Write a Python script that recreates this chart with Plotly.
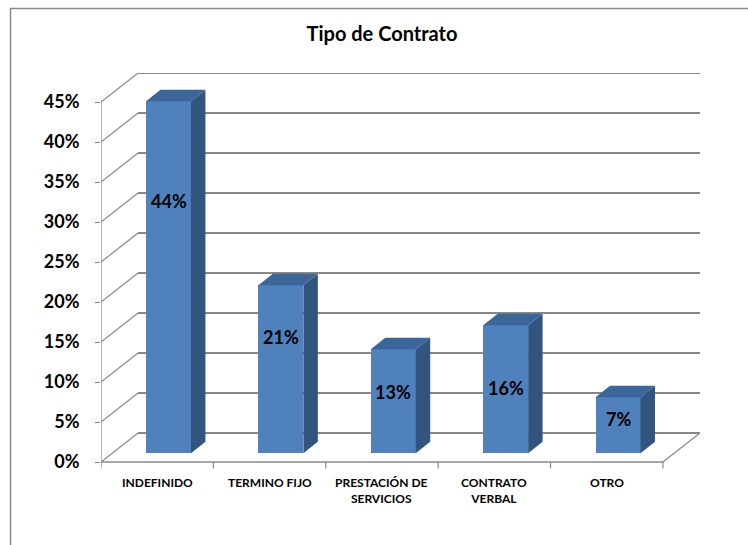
import plotly.graph_objects as go

# --- data -------------------------------------------------------------
categories = ["INDEFINIDO", "TERMINO FIJO", "PRESTACIÓN DE<br>SERVICIOS",
              "CONTRATO<br>VERBAL", "OTRO"]
shares = [44, 21, 13, 16, 7]          # percent of respondents
y_ticks = [0, 5, 10, 15, 20, 25, 30, 35, 40, 45]
y_tick_text = [f"{v}%" for v in y_ticks]

# --- pseudo-3D geometry (oblique projection in data units) ------------
DX, DY = 0.33, 3.625            # full depth offset of the back wall
F0, F1 = 0.305, 0.695           # bar front / back depth fractions
HALF = 0.2                      # half bar width
label_frac = [0.715, 0.69, 0.59, 0.51, 0.61]   # label height within bar

FRONT = "#4F81BD"
SIDE = "#32557F"
TOP = "#3B6699"
GRID = "#888888"
FONT = "Lato"

n = len(categories)
xs = list(range(n))
x_lo, x_hi = -0.5, n - 0.5
y_top = max(y_ticks)

fig = go.Figure()

shapes = []
def seg(x0, y0, x1, y1, w=1.8, color=GRID):
    shapes.append(dict(type="line", xref="x", yref="y", x0=x0, y0=y0,
                       x1=x1, y1=y1, layer="below",
                       line=dict(color=color, width=w)))

# back wall gridlines and left wall diagonals
for v in y_ticks:
    seg(x_lo + DX, v + DY, x_hi + DX, v + DY)
    seg(x_lo, v, x_lo + DX, v + DY, w=1.2)
# floor outline
seg(x_lo, 0, x_hi, 0, w=1.5)
seg(x_hi, 0, x_hi + DX, DY, w=1.2)
# front value axis
seg(x_lo, 0, x_lo, y_top, w=1.2)
# category tick marks
for k in range(n + 1):
    seg(x_lo + k, 0, x_lo + k, -0.8, w=1.2)

# bars: front faces
fx = [x + F0 * DX for x in xs]
base = F0 * DY
fig.add_trace(go.Bar(x=fx, y=shares, base=base, width=2 * HALF,
                     marker=dict(color=FRONT, line=dict(width=0)),
                     hoverinfo="skip", showlegend=False))

# bars: side and top faces
for x, v in zip(xs, shares):
    xr0 = x + F0 * DX + HALF
    xr1 = x + F1 * DX + HALF
    xl0 = x + F0 * DX - HALF
    xl1 = x + F1 * DX - HALF
    y0, y1 = F0 * DY, F1 * DY
    fig.add_trace(go.Scatter(
        x=[xr0, xr1, xr1, xr0, xr0], y=[y0, y1, v + y1, v + y0, y0],
        fill="toself", fillcolor=SIDE, mode="lines", line=dict(width=0),
        hoverinfo="skip", showlegend=False))
    fig.add_trace(go.Scatter(
        x=[xl0, xr0, xr1, xl1, xl0], y=[v + y0, v + y0, v + y1, v + y1, v + y0],
        fill="toself", fillcolor=TOP, mode="lines", line=dict(width=0),
        hoverinfo="skip", showlegend=False))

annotations = []
# value labels on the bar fronts
for x, v, f in zip(xs, shares, label_frac):
    annotations.append(dict(x=x + F0 * DX, y=base + v * f, xref="x", yref="y",
                            text=f"{v}%", showarrow=False,
                            font=dict(family=FONT, size=18, color="black",
                                      weight="bold")))
# category labels
for x, c in zip(xs, categories):
    annotations.append(dict(x=x, y=0, xref="x", yref="y", text=c,
                            showarrow=False, yanchor="top", yshift=-11,
                            font=dict(family=FONT, size=12, color="black",
                                      weight="bold")))

# chart frame
PX_L, PX_R, PX_T, PX_B = 101, 700, 73, 486
def px_to_paper_x(px):
    return (px - PX_L) / (PX_R - PX_L)
def px_to_paper_y(py):
    return (PX_B - py) / (PX_B - PX_T)
shapes.append(dict(type="rect", xref="paper", yref="paper",
                   x0=px_to_paper_x(10.5), x1=px_to_paper_x(760),
                   y0=px_to_paper_y(560), y1=px_to_paper_y(8.5),
                   line=dict(color="#8A8A8A", width=1.5), layer="below"))

fig.update_layout(
    width=748, height=545, autosize=False,
    margin=dict(l=PX_L, r=748 - PX_R, t=PX_T, b=545 - PX_B),
    paper_bgcolor="white", plot_bgcolor="white",
    title=dict(text="Tipo de Contrato", x=382 / 748, xanchor="center",
               xref="container",
               y=1 - 33.5 / 545, yanchor="middle", yref="container",
               font=dict(family=FONT, size=20, color="black", weight="bold")),
    xaxis=dict(range=[x_lo, x_hi + DX], showgrid=False, zeroline=False,
               showticklabels=False, ticks="", showline=False, fixedrange=True),
    yaxis=dict(range=[-3, y_top + DY], tickvals=y_ticks, ticktext=y_tick_text,
               showgrid=False, zeroline=False, showline=False,
               ticks="outside", ticklen=5, tickcolor=GRID, tickwidth=1.2,
               ticklabelstandoff=12,
               tickfont=dict(family=FONT, size=18, color="black",
                             weight="bold"), fixedrange=True),
    shapes=shapes, annotations=annotations, bargap=0,
)

fig.write_html("out.html")
